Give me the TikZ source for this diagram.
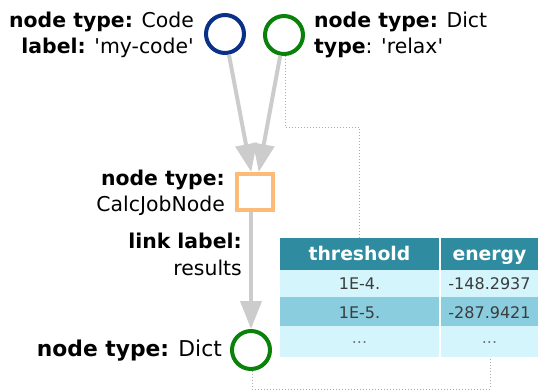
\documentclass[tikz,border=0pt]{standalone}
\usepackage{fontspec}
\setmainfont{DejaVu Sans}[Ligatures=TeXOff]
\usetikzlibrary{arrows.meta}
\definecolor{codeblue}{RGB}{10,48,135}
\definecolor{dictgreen}{RGB}{10,130,10}
\definecolor{calcorange}{RGB}{253,187,120}
\definecolor{linkgray}{RGB}{204,204,204}
\definecolor{dotgray}{RGB}{170,170,170}
\definecolor{headteal}{RGB}{46,139,160}
\definecolor{rowlight}{RGB}{212,245,252}
\definecolor{rowmid}{RGB}{137,205,222}
\definecolor{celltext}{RGB}{60,60,60}
\definecolor{dotstext}{RGB}{120,120,120}
\tikzset{
  datanode/.style={circle,draw=#1,line width=4pt,minimum size=38pt,inner sep=0pt},
  calcnode/.style={rectangle,draw=calcorange,line width=4pt,minimum size=36pt,inner sep=0pt},
  link/.style={draw=linkgray,line width=4pt,-{Triangle[length=28pt,width=21pt]}},
  prov/.style={draw=dotgray,line width=1pt,dotted},
  lbl/.style={inner sep=0pt,font=\fontsize{20.4}{24}\selectfont},
  biglbl/.style={inner sep=0pt,font=\fontsize{21.8}{26}\selectfont},
  hdr/.style={inner sep=0pt,text=white,font=\fontsize{18.8}{22}\selectfont\bfseries},
  cell/.style={inner sep=0pt,text=celltext,font=\fontsize{16}{19}\selectfont},
}
\begin{document}
\begin{tikzpicture}[x=1pt,y=-1pt]
\useasboundingbox (0,0) rectangle (538,391);
% nodes
\node[datanode=codeblue] (code) at (225,34) {};
\node[datanode=dictgreen] (dictin) at (284,35) {};
\node[calcnode] (calc) at (255,192) {};
\node[datanode=dictgreen] (dictout) at (251,350) {};
% labels
\node[lbl,anchor=base east] (l1) at (194,27) {\textbf{node type:} Code};
\node[lbl,anchor=base east] (l2) at (194,53) {\textbf{label:} 'my-code'};
\node[lbl,anchor=base west] (l3) at (314,27) {\textbf{node type:} Dict};
\node[lbl,anchor=base west] (l4) at (314,53) {\textbf{type}: 'relax'};
\node[lbl,anchor=base east] (l5) at (225,185) {\textbf{node type:}};
\node[lbl,anchor=base east] (l6) at (225,211) {CalcJobNode};
\node[lbl,anchor=base east] (l7) at (242,248) {\textbf{link label:}};
\node[lbl,anchor=base east] (l8) at (242,275) {results};
\node[biglbl,anchor=base east] (l9) at (222,356) {\textbf{node type:} Dict};
% table
\fill[headteal] (280,238) rectangle (439,270);
\fill[headteal] (441,238) rectangle (538,270);
\fill[rowlight] (280,270) rectangle (439,297);
\fill[rowlight] (441,270) rectangle (538,297);
\fill[rowmid] (280,297) rectangle (439,326);
\fill[rowmid] (441,297) rectangle (538,326);
\fill[rowlight] (280,326) rectangle (439,357);
\fill[rowlight] (441,326) rectangle (538,357);
\coordinate (tabtop) at (359,238);
\coordinate (tabbot) at (490,357);
\node[hdr,anchor=base] (h1) at (359.5,260) {threshold};
\node[hdr,anchor=base] (h2) at (489.5,260) {energy};
\node[cell,anchor=base] (c11) at (359.5,289) {1E-4.};
\node[cell,anchor=base] (c12) at (489.5,289) {-148.2937};
\node[cell,anchor=base] (c21) at (359.5,318) {1E-5.};
\node[cell,anchor=base] (c22) at (489.5,318) {-287.9421};
\node[cell,anchor=base,text=dotstext] (c31) at (359.5,343) {...};
\node[cell,anchor=base,text=dotstext] (c32) at (489.5,343) {...};
% links
\draw[link] (code) -- (calc);
\draw[link] (dictin) -- (calc);
\draw[link] (calc.south -| dictout) -- (dictout);
% provenance dotted lines
\coordinate (p1) at (285,127);
\coordinate (p2) at (359,127);
\draw[prov] (dictin.south -| p1) -- (p1) -- (p2) -- (tabtop);
\coordinate (q1) at (252,389);
\coordinate (q2) at (490,389);
\draw[prov] (dictout.south -| q1) -- (q1) -- (q2) -- (tabbot);
\end{tikzpicture}
\end{document}
